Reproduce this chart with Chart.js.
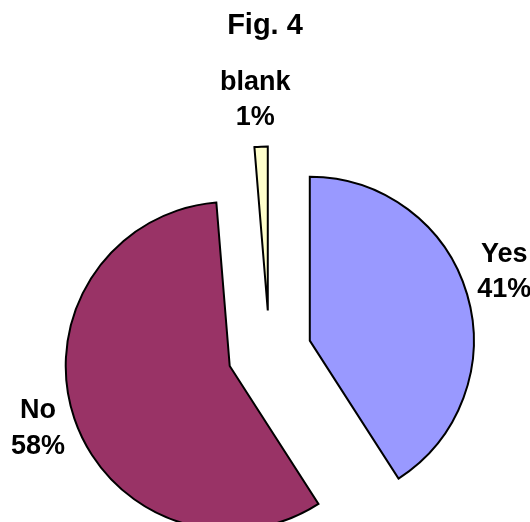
<!DOCTYPE html>
<html>
<head>
<meta charset="utf-8">
<script src="https://cdn.jsdelivr.net/npm/chart.js@4.4.1/dist/chart.umd.min.js"></script>
<style>
  html, body { margin: 0; padding: 0; background: #ffffff; }
  #wrap { width: 530px; height: 522px; }
</style>
</head>
<body>
<div id="wrap"><canvas id="c" width="530" height="522"></canvas></div>
<script>
// ---- data ----
const chartTitle = 'Fig. 4';
const categories = ['Yes', 'No', 'blank'];
const values = [40.9, 57.8, 1.3];
const sliceColors = ['#9999FF', '#993366', '#FFFFCC'];

// ---- style constants ----
const FONT = 'Arial, "Liberation Sans", sans-serif';
const EXPLODE = 42;         // px each slice is pulled out
const LABEL_DIST = 246;     // px from pie centre to label centre
const LABEL_TURN = -1 * Math.PI / 180; // small angular shift of labels
const LABEL_RAISE = 7;      // px the label block sits above its anchor
const LABEL_SIZE = 27;
const TITLE_SIZE = 29;
const LINE_GAP = 35.5;

const total = values.reduce((a, b) => a + b, 0);
const pctLabels = values.map(v => Math.round(v / total * 100) + '%');

const explodePlugin = {
  id: 'explode',
  beforeDatasetDraw(chart, args) {
    const ctx = chart.ctx;
    args.meta.data.forEach(arc => {
      const mid = (arc.startAngle + arc.endAngle) / 2;
      ctx.save();
      ctx.translate(Math.cos(mid) * EXPLODE, Math.sin(mid) * EXPLODE);
      arc.draw(ctx);
      ctx.restore();
    });
    return false;
  },
  afterDraw(chart) {
    const ctx = chart.ctx;
    ctx.save();
    ctx.fillStyle = '#000';
    ctx.textAlign = 'center';
    ctx.textBaseline = 'middle';
    // title
    ctx.font = 'bold ' + TITLE_SIZE + 'px ' + FONT;
    ctx.fillText(chartTitle, chart.width / 2, 26);
    // slice labels
    ctx.font = 'bold ' + LABEL_SIZE + 'px ' + FONT;
    const meta = chart.getDatasetMeta(0);
    meta.data.forEach((arc, i) => {
      const mid = (arc.startAngle + arc.endAngle) / 2 + LABEL_TURN;
      const cx = arc.x + Math.cos(mid) * LABEL_DIST;
      const cy = arc.y + Math.sin(mid) * LABEL_DIST - LABEL_RAISE;
      ctx.fillText(categories[i], cx, cy - LINE_GAP / 2);
      ctx.fillText(pctLabels[i], cx, cy + LINE_GAP / 2);
    });
    ctx.restore();
  }
};

new Chart(document.getElementById('c'), {
  type: 'pie',
  data: {
    labels: categories,
    datasets: [{
      data: values,
      backgroundColor: sliceColors,
      borderColor: '#000000',
      borderWidth: 2,
      borderJoinStyle: 'miter',
      clip: false
    }]
  },
  options: {
    responsive: false,
    devicePixelRatio: 1,
    animation: false,
    radius: 164,
    layout: { padding: { top: 183, bottom: 0, left: 9, right: 0 } },
    plugins: {
      legend: { display: false },
      tooltip: { enabled: false },
      title: { display: false }
    }
  },
  plugins: [explodePlugin]
});
</script>
</body>
</html>
